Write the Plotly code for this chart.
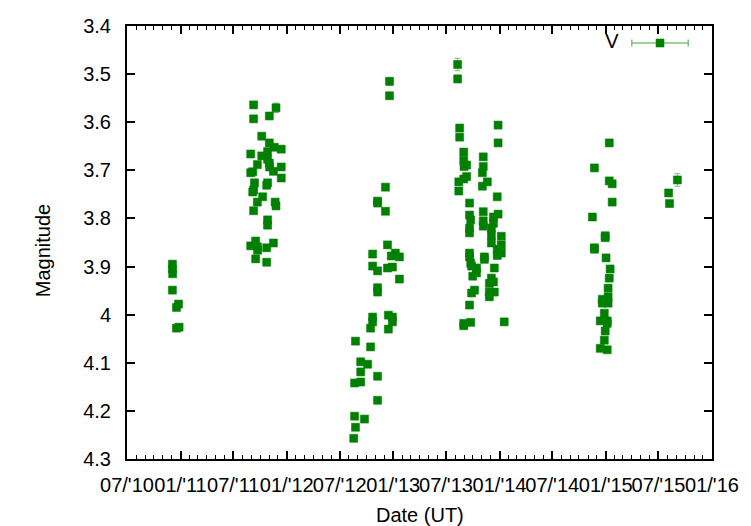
import plotly.graph_objects as go

# Observation dates (UT)
dates = [
    # 2010/11 season
    "2010-12-04", "2010-12-04", "2010-12-05", "2010-12-04", "2010-12-18", "2010-12-25", "2010-12-18", "2010-12-27",
    # 2011 season
    "2011-09-09", "2011-09-09", "2011-11-25", "2011-11-02", "2011-10-07", "2011-11-02", "2011-11-19", "2011-12-13",
    "2011-10-27", "2011-08-30", "2011-10-07", "2011-10-27", "2011-09-22", "2011-11-02", "2011-11-03", "2011-12-13",
    "2011-11-16", "2011-08-30", "2011-09-06", "2011-12-13", "2011-09-12", "2011-10-27", "2011-10-24", "2011-09-09",
    "2011-09-06", "2011-10-10", "2011-09-22", "2011-11-22", "2011-11-25", "2011-09-09", "2011-10-27", "2011-10-27",
    "2011-08-30", "2011-09-16", "2011-09-22", "2011-10-24", "2011-11-16", "2011-09-16", "2011-10-24", "2011-09-23",
    # 2012 season
    "2012-12-19", "2012-12-19", "2012-12-05", "2012-11-08", "2012-11-08", "2012-12-05", "2012-12-12", "2012-10-22",
    "2013-01-08", "2013-01-22", "2012-12-25", "2012-10-22", "2012-11-08", "2012-12-12", "2012-12-29", "2013-01-22",
    "2012-11-08", "2012-11-08", "2012-10-22", "2012-10-22", "2012-10-15", "2012-12-15", "2012-12-29", "2012-12-29",
    "2012-12-15", "2012-08-24", "2012-10-15", "2012-09-11", "2012-10-05", "2012-09-11", "2012-11-08", "2012-08-21",
    "2012-09-11", "2012-11-08", "2012-08-21", "2012-09-24", "2012-08-24", "2012-08-18",
    # 2013 season
    "2013-08-10", "2013-08-10", "2013-08-17", "2013-08-17", "2013-12-27", "2013-12-27", "2013-08-31", "2013-11-06",
    "2013-08-31", "2013-09-10", "2013-09-01", "2013-11-06", "2013-11-03", "2013-09-10", "2013-08-31", "2013-08-14",
    "2013-11-20", "2013-11-03", "2013-08-14", "2013-12-24", "2013-09-20", "2013-11-06", "2013-09-20", "2013-12-27",
    "2013-09-24", "2013-11-06", "2013-12-11", "2013-12-11", "2013-11-06", "2013-09-20", "2013-09-20", "2013-12-04",
    "2013-12-04", "2014-01-07", "2013-12-04", "2014-01-07", "2013-12-24", "2014-01-07", "2013-12-24", "2013-09-20",
    "2013-09-20", "2013-11-10", "2013-09-24", "2013-11-10", "2013-10-14", "2013-09-27", "2013-12-14", "2013-10-14",
    "2013-10-01", "2013-12-04", "2013-12-11", "2013-11-27", "2013-11-27", "2013-12-14", "2013-10-07", "2013-09-27",
    "2013-11-27", "2013-09-20", "2013-08-31", "2013-08-31", "2013-09-24", "2014-01-17",
    # 2014 season
    "2015-01-13", "2014-11-23", "2015-01-13", "2015-01-23", "2015-01-23", "2014-11-16", "2014-12-30", "2014-12-30",
    "2014-11-23", "2014-11-23", "2015-01-02", "2015-01-16", "2015-01-13", "2015-01-09", "2014-12-20", "2015-01-09",
    "2014-12-20", "2015-01-09", "2014-12-27", "2014-12-13", "2015-01-06", "2015-01-06", "2014-12-30", "2014-12-27",
    "2014-12-13", "2015-01-06",
    # 2015 season
    "2015-09-04", "2015-08-05", "2015-08-08",
]

# V magnitudes
mags = [
    3.895, 3.905, 3.915, 3.949, 3.985, 3.978, 4.028, 4.026,
    3.564, 3.593, 3.570, 3.587, 3.629, 3.643, 3.652, 3.656,
    3.661, 3.666, 3.670, 3.677, 3.688, 3.685, 3.693, 3.693,
    3.702, 3.705, 3.703, 3.716, 3.726, 3.726, 3.731, 3.741,
    3.745, 3.755, 3.766, 3.766, 3.774, 3.784, 3.803, 3.814,
    3.857, 3.847, 3.859, 3.861, 3.851, 3.884, 3.891, 3.866,
    3.515, 3.545, 3.735, 3.764, 3.768, 3.785, 3.855, 3.874,
    3.872, 3.880, 3.878, 3.899, 3.909, 3.903, 3.901, 3.926,
    3.944, 3.953, 4.005, 4.015, 4.028, 4.001, 4.005, 4.015,
    4.030, 4.055, 4.067, 4.098, 4.103, 4.119, 4.128, 4.142,
    4.140, 4.178, 4.211, 4.217, 4.234, 4.257,
    3.480, 3.510, 3.612, 3.631, 3.606, 3.643, 3.662, 3.672,
    3.679, 3.689, 3.692, 3.692, 3.705, 3.713, 3.718, 3.724,
    3.724, 3.733, 3.743, 3.755, 3.768, 3.786, 3.793, 3.791,
    3.803, 3.805, 3.797, 3.810, 3.816, 3.820, 3.830, 3.820,
    3.835, 3.837, 3.851, 3.855, 3.864, 3.872, 3.877, 3.872,
    3.880, 3.880, 3.893, 3.885, 3.903, 3.899, 3.903, 3.913,
    3.920, 3.924, 3.932, 3.935, 3.953, 3.953, 3.949, 3.955,
    3.963, 3.980, 4.023, 4.018, 4.016, 4.015,
    3.643, 3.695, 3.722, 3.728, 3.766, 3.797, 3.836, 3.840,
    3.861, 3.864, 3.882, 3.905, 3.924, 3.945, 3.968, 3.963,
    3.976, 3.976, 3.997, 4.013, 4.013, 4.018, 4.034, 4.053,
    4.070, 4.073,
    3.720, 3.747, 3.769,
]

# 1-sigma uncertainties (most hidden under the markers)
errs = [0.004] * len(mags)
larger_errs = {10: 0.010, 48: 0.008, 49: 0.006, 86: 0.013, 87: 0.008, 90: 0.007, 91: 0.006,
               len(mags) - 3: 0.013, len(mags) - 2: 0.006}
for i, e in larger_errs.items():
    errs[i] = e

ytick_vals = [3.4, 3.5, 3.6, 3.7, 3.8, 3.9, 4.0, 4.1, 4.2, 4.3]
ytick_text = ["3.4", "3.5", "3.6", "3.7", "3.8", "3.9", "4", "4.1", "4.2", "4.3"]
x_range = ["2010-07-01", "2016-01-01"]
y_range = [4.3, 3.4]
series_name = "V"

MARK = "#008000"
ERRC = "rgba(0,128,0,0.5)"
FONT = "Liberation Sans, Arial, sans-serif"
FS = 20

fig = go.Figure()
fig.add_trace(go.Scatter(
    x=dates, y=mags, mode="markers", name=series_name, showlegend=False,
    marker=dict(symbol="square", size=8, color=MARK, line=dict(width=1, color="rgba(0,128,0,0.55)")),
    error_y=dict(type="data", array=errs, visible=True, color=ERRC, thickness=1, width=3),
))

# gnuplot-style key (label, then marker with horizontal error bar) on a hidden overlay frame
W, H = 591, 433
kxm = (665.5 - 127) / W
khalf = (694 - 637) / 2 / W
ky = (459 - 43) / H
kxt = (617 - 127) / W
fig.add_trace(go.Scatter(
    x=[kxm], y=[ky], xaxis="x2", yaxis="y2", mode="markers", showlegend=False, hoverinfo="skip",
    marker=dict(symbol="square", size=8, color=MARK, line=dict(width=1, color="rgba(0,128,0,0.55)")),
    error_x=dict(type="data", array=[khalf], visible=True, color=ERRC, thickness=1.5, width=3.5),
))
fig.add_trace(go.Scatter(
    x=[kxt], y=[ky], xaxis="x2", yaxis="y2", mode="text", text=[series_name], showlegend=False,
    hoverinfo="skip", textposition="middle center",
    textfont=dict(family=FONT, size=FS, color="black"),
))

axis_common = dict(showline=True, linecolor="black", linewidth=2, mirror="ticks",
                   ticks="inside", tickcolor="black", tickwidth=1.5, showgrid=False, zeroline=False)

fig.update_layout(
    xaxis=dict(type="date", range=x_range, dtick="M6", tick0="2010-07-01", tickformat="%m/'%y",
               tickangle=0, ticklen=8, ticklabelstandoff=7,
               minor=dict(dtick="M1", ticks="inside", ticklen=4, tickcolor="black", tickwidth=1),
               **axis_common),
    yaxis=dict(range=y_range, tickmode="array", tickvals=ytick_vals, ticktext=ytick_text,
               ticklen=8, ticklabelstandoff=10, **axis_common),
    xaxis2=dict(overlaying="x", range=[0, 1], visible=False, fixedrange=True),
    yaxis2=dict(overlaying="y", range=[0, 1], visible=False, fixedrange=True),
)

# axis titles
fig.add_annotation(text="Date (UT)", xref="paper", yref="paper", x=0.5, y=0, yshift=-56,
                   yanchor="middle", showarrow=False, font=dict(family=FONT, size=FS, color="black"))
fig.add_annotation(text="Magnitude", xref="paper", yref="paper", x=0, y=0.48, xshift=-84,
                   xanchor="center", yanchor="middle",
                   textangle=-90, showarrow=False, font=dict(family=FONT, size=FS, color="black"))

fig.update_layout(width=751, height=526, margin=dict(l=127, r=33, t=26, b=67),
                  paper_bgcolor="white", plot_bgcolor="white",
                  font=dict(family=FONT, size=FS, color="black"))

fig.write_html("out.html", config={"displayModeBar": False},
               post_script="document.body.style.margin='0';")
